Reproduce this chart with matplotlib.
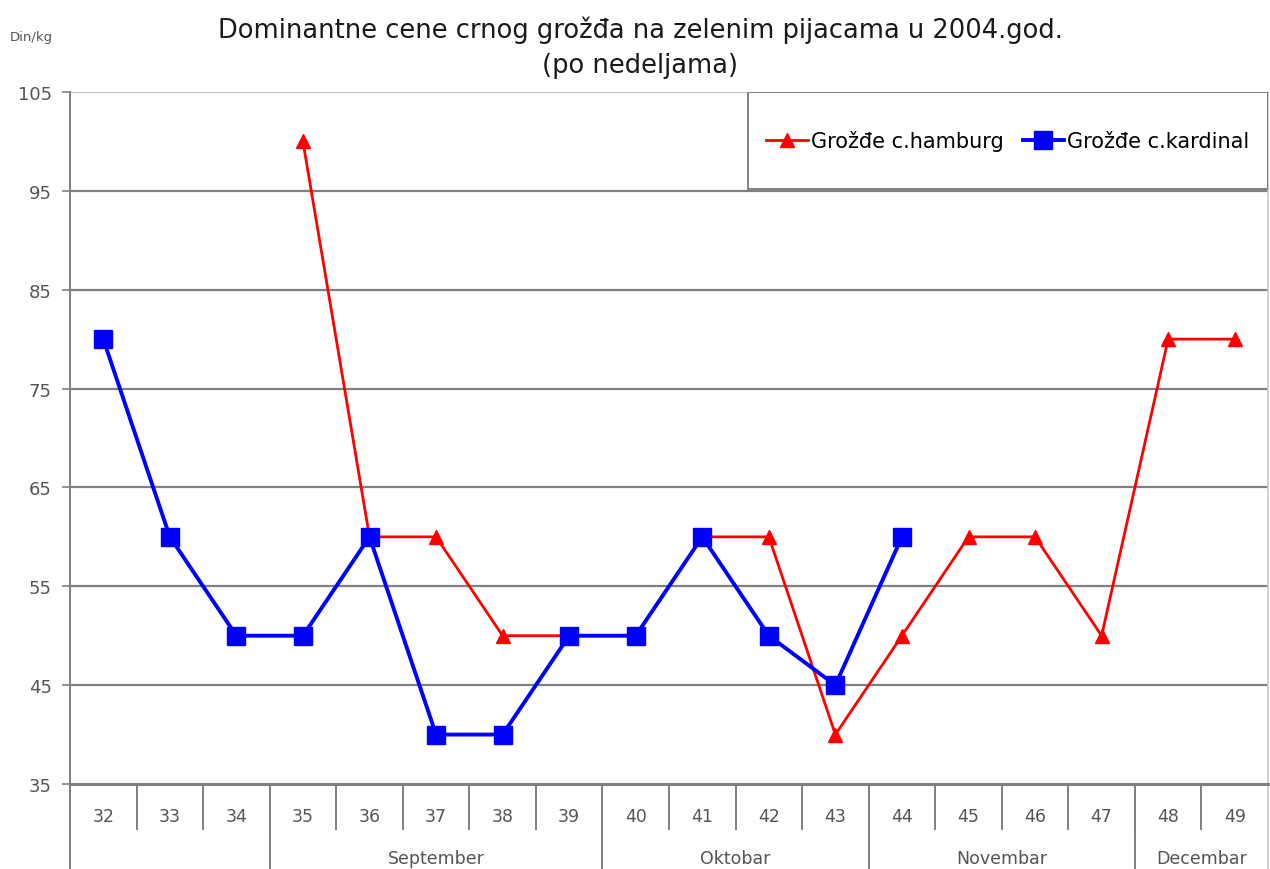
import matplotlib
matplotlib.use("Agg")
import matplotlib.pyplot as plt
from matplotlib.patches import Rectangle
from matplotlib.lines import Line2D

weeks = ["32", "33", "34", "35", "36", "37", "38", "39", "40",
         "41", "42", "43", "44", "45", "46", "47", "48", "49"]
hamburg = [None, None, None, 100, 60, 60, 50, 50, 50,
           60, 60, 40, 50, 60, 60, 50, 80, 80]
kardinal = [80, 60, 50, 50, 60, 40, 40, 50, 50,
            60, 50, 45, 60, None, None, None, None, None]
months = ["", "September", "Oktobar", "Novembar", "Decembar"]
month_spans = [(0, 2), (3, 7), (8, 11), (12, 15), (16, 17)]
yticks = [35, 45, 55, 65, 75, 85, 95, 105]

title1 = "Dominantne cene crnog grožđa na zelenim pijacama u 2004.god."
title2 = "(po nedeljama)"
ylabel = "Din/kg"
label_h = "Grožđe c.hamburg"
label_k = "Grožđe c.kardinal"

W, H = 1270, 870
fig = plt.figure(figsize=(W / 100, H / 100), dpi=100)
L, R, T, B = 70, 1268, 93, 785
ax = fig.add_axes([L / W, 1 - B / H, (R - L) / W, (B - T) / H])

n = len(weeks)
xs = list(range(n))

def to_xy(vals):
    px, py = [], []
    for x, v in zip(xs, vals):
        px.append(x)
        py.append(float('nan') if v is None else v)
    return px, py

hx, hy = to_xy(hamburg)
kx, ky = to_xy(kardinal)

ax.set_xlim(-0.5, n - 0.5)
ax.set_ylim(35, 105)

# gridlines
for y in yticks[1:-1]:
    ax.axhline(y, color="#808080", lw=1.6, zorder=1)
ax.axhline(105, color="#c8c8c8", lw=1.6, zorder=1)

ax.plot(hx, hy, color="#ff0000", lw=2.0, marker="^", markersize=10,
        markeredgecolor="#ff0000", zorder=3)
ax.plot(kx, ky, color="#0000ff", lw=2.8, marker="s", markersize=13.5,
        markeredgecolor="#0000ff", zorder=4)

ax.spines["top"].set_visible(False)
ax.spines["right"].set_color("#c8c8c8")
ax.spines["right"].set_linewidth(1.2)
ax.spines["left"].set_color("#808080")
ax.spines["left"].set_linewidth(1.4)
ax.spines["bottom"].set_color("#808080")
ax.spines["bottom"].set_linewidth(2.2)

ax.set_yticks(yticks)
ax.set_yticklabels([str(v) for v in yticks], fontsize=13, color="#555555")
ax.tick_params(axis="y", length=6, width=1.2, color="#808080", pad=7)
ax.set_xticks([])

# two-level category axis
ylow1 = (B - 830) / (B - T)
ylow2 = (B - 870) / (B - T)
xt = ax.get_xaxis_transform()
for i in range(1, n):
    ax.plot([i - 0.5, i - 0.5], [0, ylow1], transform=xt,
            color="#808080", lw=1.4, clip_on=False)
for (a, b) in month_spans:
    ax.plot([a - 0.5, a - 0.5], [0, ylow2], transform=xt,
            color="#808080", lw=1.4, clip_on=False)
ax.plot([n - 0.5, n - 0.5], [0, ylow2], transform=xt,
        color="#c8c8c8", lw=1.2, clip_on=False)
for x, w in zip(xs, weeks):
    ax.text(x, (B - 817) / (B - T), w, transform=xt,
            ha="center", va="center", fontsize=12.5, color="#555555")
for m, (a, b) in zip(months, month_spans):
    if m:
        ax.text((a + b) / 2, (B - 859) / (B - T), m, transform=xt,
                ha="center", va="center", fontsize=12.5, color="#555555")

# legend box
lx0 = (748 - L) / (R - L)
ly0 = (B - 190) / (B - T)
ax.add_patch(Rectangle((lx0, ly0), 1 - lx0, 1 - ly0, transform=ax.transAxes,
                       facecolor="white", edgecolor="#808080", lw=1.4, zorder=5))
handles = [Line2D([], [], color="#ff0000", lw=2.0, marker="^", markersize=10),
           Line2D([], [], color="#0000ff", lw=2.8, marker="s", markersize=13.5)]
leg = ax.legend(handles, [label_h, label_k], ncol=2, frameon=False,
                loc="center", bbox_to_anchor=((lx0 + 1) / 2, (ly0 + 1) / 2),
                fontsize=15, handlelength=2.0, handletextpad=0.15, columnspacing=0.9)
leg.set_zorder(6)

fig.text(640 / W, 1 - 30 / H, title1, ha="center", va="center", fontsize=18.5, color="#1a1a1a")
fig.text(640 / W, 1 - 66 / H, title2, ha="center", va="center", fontsize=18.5, color="#1a1a1a")
fig.text(31 / W, 1 - 37 / H, ylabel, ha="center", va="center", fontsize=9.5, color="#555555")

fig.savefig("out.png", dpi=100, facecolor="white")
